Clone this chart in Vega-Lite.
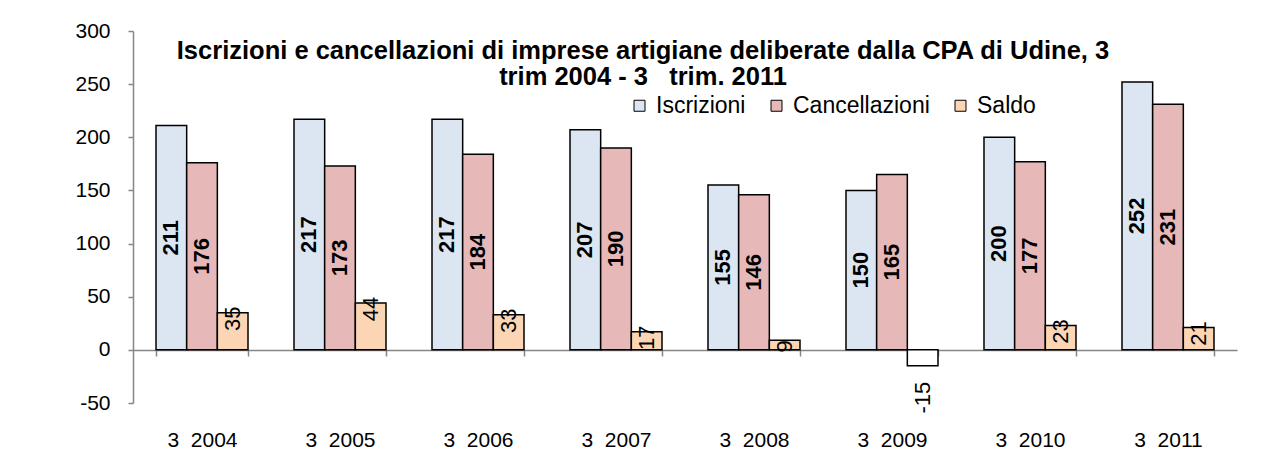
{
  "$schema": "https://vega.github.io/schema/vega-lite/v6.json",
  "width": 1104,
  "height": 372,
  "autosize": {"type": "none"},
  "padding": {"left": 133, "top": 31, "right": 29, "bottom": 62},
  "background": "white",
  "config": {"view": {"stroke": null}, "font": "Liberation Sans"},
  "title": {
    "text": ["Iscrizioni e cancellazioni di imprese artigiane deliberate dalla CPA di Udine, 3", "trim 2004 - 3\u00a0\u00a0 trim. 2011"],
    "fontSize": 25.5,
    "fontWeight": "bold",
    "font": "Liberation Sans",
    "color": "black",
    "anchor": "middle",
    "dx": -42,
    "offset": -70,
    "baseline": "top",
    "lineHeight": 26
  },
  "data": {
    "values": [
      {"anno": "3\u00a0\u00a02004", "serie": "Iscrizioni", "valore": 211},
      {"anno": "3\u00a0\u00a02004", "serie": "Cancellazioni", "valore": 176},
      {"anno": "3\u00a0\u00a02004", "serie": "Saldo", "valore": 35},
      {"anno": "3\u00a0\u00a02005", "serie": "Iscrizioni", "valore": 217},
      {"anno": "3\u00a0\u00a02005", "serie": "Cancellazioni", "valore": 173},
      {"anno": "3\u00a0\u00a02005", "serie": "Saldo", "valore": 44},
      {"anno": "3\u00a0\u00a02006", "serie": "Iscrizioni", "valore": 217},
      {"anno": "3\u00a0\u00a02006", "serie": "Cancellazioni", "valore": 184},
      {"anno": "3\u00a0\u00a02006", "serie": "Saldo", "valore": 33},
      {"anno": "3\u00a0\u00a02007", "serie": "Iscrizioni", "valore": 207},
      {"anno": "3\u00a0\u00a02007", "serie": "Cancellazioni", "valore": 190},
      {"anno": "3\u00a0\u00a02007", "serie": "Saldo", "valore": 17},
      {"anno": "3\u00a0\u00a02008", "serie": "Iscrizioni", "valore": 155},
      {"anno": "3\u00a0\u00a02008", "serie": "Cancellazioni", "valore": 146},
      {"anno": "3\u00a0\u00a02008", "serie": "Saldo", "valore": 9},
      {"anno": "3\u00a0\u00a02009", "serie": "Iscrizioni", "valore": 150},
      {"anno": "3\u00a0\u00a02009", "serie": "Cancellazioni", "valore": 165},
      {"anno": "3\u00a0\u00a02009", "serie": "Saldo", "valore": -15},
      {"anno": "3\u00a0\u00a02010", "serie": "Iscrizioni", "valore": 200},
      {"anno": "3\u00a0\u00a02010", "serie": "Cancellazioni", "valore": 177},
      {"anno": "3\u00a0\u00a02010", "serie": "Saldo", "valore": 23},
      {"anno": "3\u00a0\u00a02011", "serie": "Iscrizioni", "valore": 252},
      {"anno": "3\u00a0\u00a02011", "serie": "Cancellazioni", "valore": 231},
      {"anno": "3\u00a0\u00a02011", "serie": "Saldo", "valore": 21}
    ]
  },
  "encoding": {
    "x": {
      "field": "anno",
      "type": "nominal",
      "sort": null,
      "scale": {"paddingInner": 0.3333, "paddingOuter": 0.1667},
      "axis": {
        "title": null,
        "orient": "bottom",
        "offset": -53,
        "domainColor": "#868686",
        "domainWidth": 1.5,
        "tickColor": "#868686",
        "tickWidth": 1.5,
        "tickSize": 6,
        "tickBand": "extent",
        "labelAngle": 0,
        "labelFontSize": 21,
        "labelFont": "Liberation Sans",
        "labelColor": "black",
        "labelPadding": 73
      }
    },
    "xOffset": {
      "field": "serie",
      "type": "nominal",
      "sort": ["Iscrizioni", "Cancellazioni", "Saldo"],
      "scale": {"paddingInner": 0, "paddingOuter": 0}
    }
  },
  "layer": [
    {
      "mark": {"type": "bar", "stroke": "black", "strokeWidth": 1.5},
      "encoding": {
        "y": {
          "field": "valore",
          "type": "quantitative",
          "scale": {"domain": [-50, 300], "nice": false, "zero": false},
          "axis": {
            "title": null,
            "values": [-50, 0, 50, 100, 150, 200, 250, 300],
            "labelExpr": "toString(datum.value)",
            "grid": false,
            "domainColor": "#868686",
            "domainWidth": 1.5,
            "tickColor": "#868686",
            "tickWidth": 1.5,
            "tickSize": 5,
            "labelFontSize": 21,
            "labelFont": "Liberation Sans",
            "labelColor": "black",
            "labelPadding": 18
          }
        },
        "color": {
          "condition": {"test": "datum.valore < 0", "value": "white"},
          "field": "serie",
          "type": "nominal",
          "sort": ["Iscrizioni", "Cancellazioni", "Saldo"],
          "scale": {"domain": ["Iscrizioni", "Cancellazioni", "Saldo"], "range": ["#dce6f2", "#e6b9b8", "#fcd5b5"]},
          "legend": {
            "orient": "none",
            "legendX": 495,
            "legendY": 63,
            "direction": "horizontal",
            "title": null,
            "symbolType": "square",
            "symbolSize": 121,
            "symbolStrokeColor": "black",
            "symbolStrokeWidth": 1,
            "symbolOpacity": 1,
            "labelFontSize": 23,
            "labelFont": "Liberation Sans",
            "labelColor": "black",
            "labelOffset": 5,
            "columnPadding": 19
          }
        }
      }
    },
    {
      "transform": [{"filter": "datum.serie != 'Saldo'"}],
      "mark": {"type": "text", "angle": 270, "align": "center", "baseline": "middle", "fontSize": 22, "fontWeight": "bold", "font": "Liberation Sans", "color": "black"},
      "encoding": {
        "y": {"field": "valore", "type": "quantitative", "scale": {"domain": [-100, 600], "nice": false, "zero": false}, "axis": null},
        "text": {"field": "valore", "type": "nominal"}
      }
    },
    {
      "transform": [{"filter": "datum.serie == 'Saldo' && datum.valore >= 0"}],
      "mark": {"type": "text", "angle": 270, "align": "center", "baseline": "middle", "dx": -6, "fontSize": 22, "font": "Liberation Sans", "color": "black"},
      "encoding": {
        "y": {"field": "valore", "type": "quantitative", "scale": {"domain": [-50, 300], "nice": false, "zero": false}, "axis": null},
        "text": {"field": "valore", "type": "nominal"}
      }
    },
    {
      "transform": [{"filter": "datum.serie == 'Saldo' && datum.valore < 0"}],
      "mark": {"type": "text", "angle": 270, "align": "right", "baseline": "middle", "dx": -16, "fontSize": 22, "font": "Liberation Sans", "color": "black"},
      "encoding": {
        "y": {"field": "valore", "type": "quantitative", "scale": {"domain": [-50, 300], "nice": false, "zero": false}, "axis": null},
        "text": {"field": "valore", "type": "nominal"}
      }
    }
  ],
  "resolve": {"scale": {"y": "independent"}, "axis": {"y": "independent"}}
}
